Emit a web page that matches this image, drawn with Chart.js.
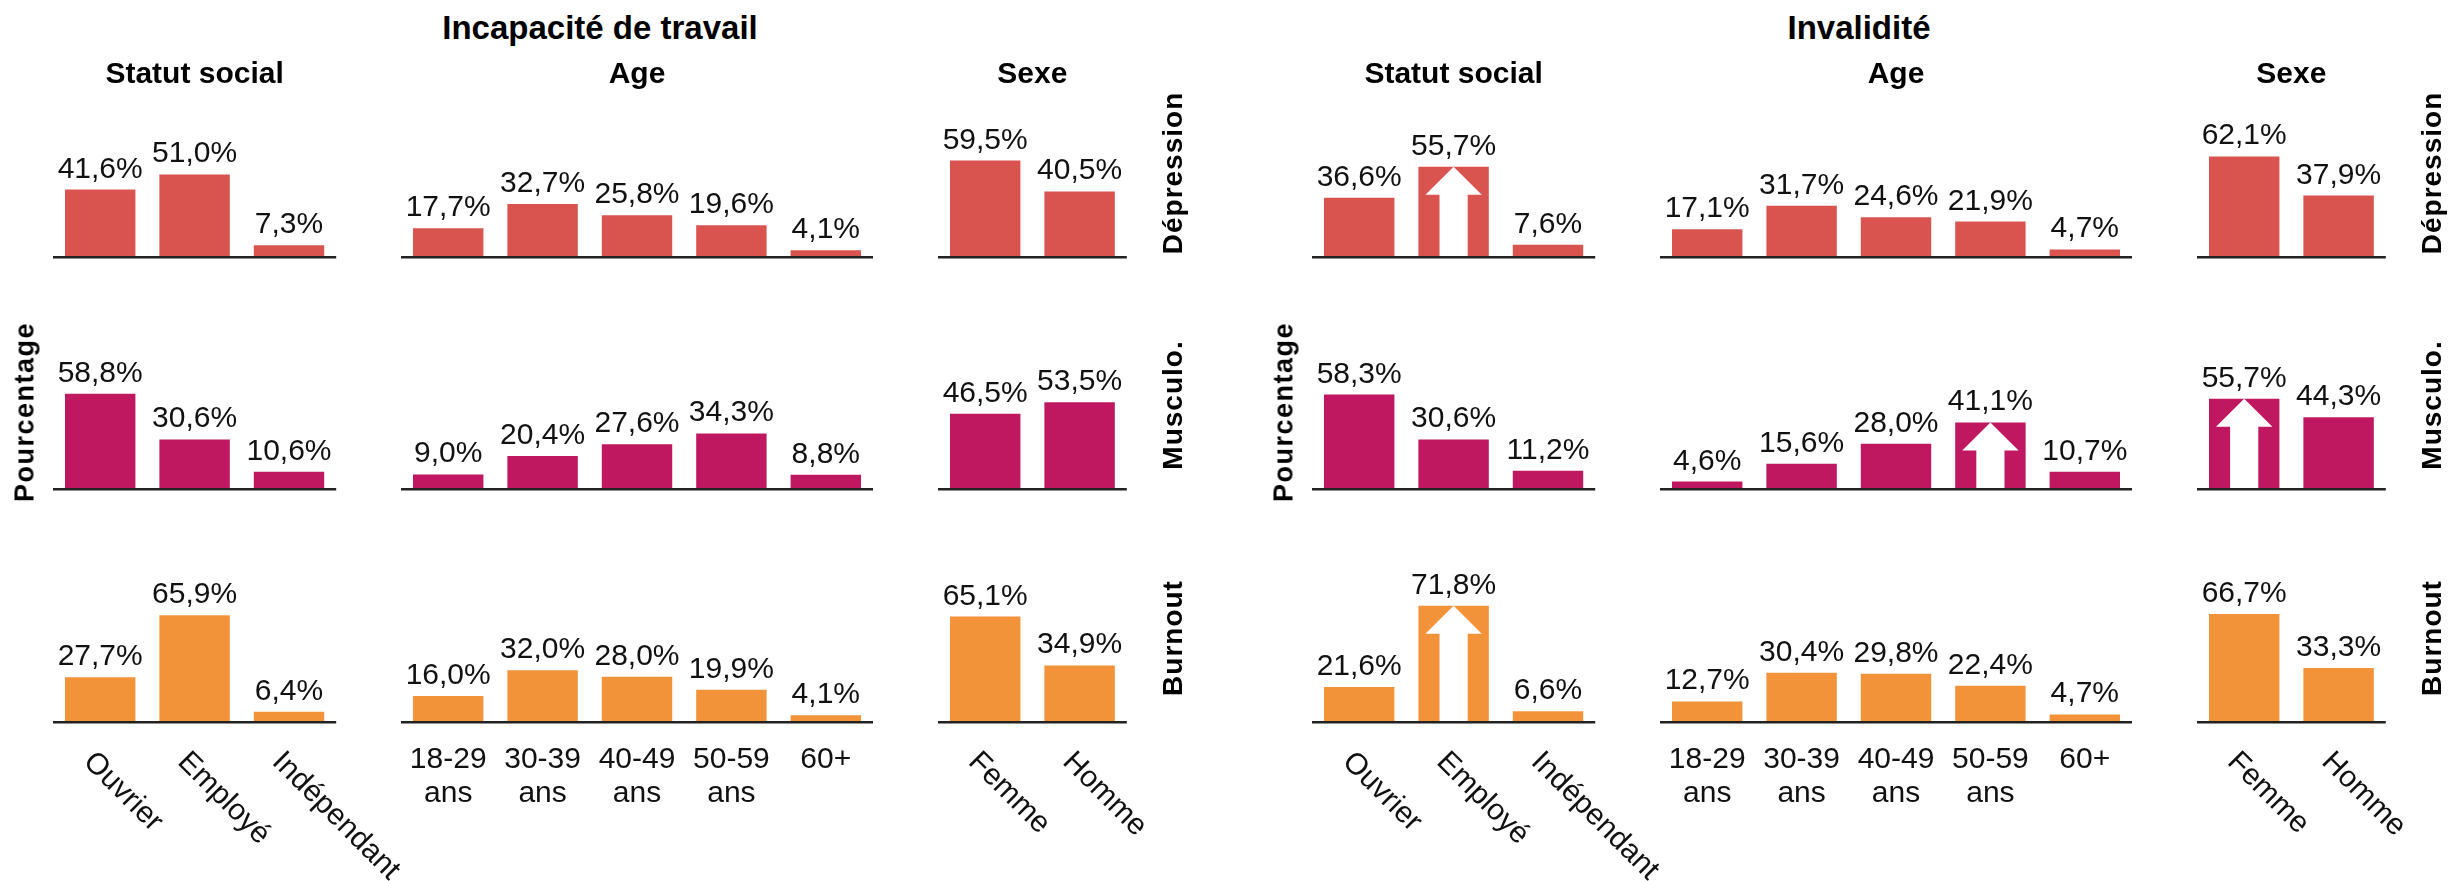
<!DOCTYPE html>
<html>
<head>
<meta charset="utf-8">
<script src="https://cdn.jsdelivr.net/npm/chart.js@4.4.1/dist/chart.umd.min.js"></script>
<style>
  html, body { margin: 0; padding: 0; background: #fff; }
  #fig { position: relative; width: 2451px; height: 881px; overflow: hidden;
         font-family: "Liberation Sans", Arial, sans-serif; color: #000; }
  #fig canvas { position: absolute; }
  .t { position: absolute; white-space: nowrap; font-weight: bold; line-height: 1;
       transform: translate(-50%, -50%); }
  .v { position: absolute; white-space: nowrap; font-weight: bold; line-height: 1;
       transform: translate(-50%, -50%) rotate(-90deg); }
</style>
</head>
<body>
<div id="fig"></div>
<script>
// ---- data -------------------------------------------------------------------
const panelTitles = ["Incapacité de travail", "Invalidité"];
const groupTitles = ["Statut social", "Age", "Sexe"];
const rowNames = ["Dépression", "Musculo.", "Burnout"];
const yLabel = "Pourcentage";

const ssCats = ["Ouvrier", "Employé", "Indépendant"];
const ageCats = [["18-29", "ans"], ["30-39", "ans"], ["40-49", "ans"], ["50-59", "ans"], ["60+"]];
const sexCats = ["Femme", "Homme"];

// Incapacité de travail
const itDepSS = [41.6, 51.0, 7.3];
const itDepAge = [17.7, 32.7, 25.8, 19.6, 4.1];
const itDepSex = [59.5, 40.5];
const itMusSS = [58.8, 30.6, 10.6];
const itMusAge = [9.0, 20.4, 27.6, 34.3, 8.8];
const itMusSex = [46.5, 53.5];
const itBurSS = [27.7, 65.9, 6.4];
const itBurAge = [16.0, 32.0, 28.0, 19.9, 4.1];
const itBurSex = [65.1, 34.9];

// Invalidité
const invDepSS = [36.6, 55.7, 7.6];
const invDepAge = [17.1, 31.7, 24.6, 21.9, 4.7];
const invDepSex = [62.1, 37.9];
const invMusSS = [58.3, 30.6, 11.2];
const invMusAge = [4.6, 15.6, 28.0, 41.1, 10.7];
const invMusSex = [55.7, 44.3];
const invBurSS = [21.6, 71.8, 6.6];
const invBurAge = [12.7, 30.4, 29.8, 22.4, 4.7];
const invBurSex = [66.7, 33.3];

// bars marked with a white up arrow (index into the category list)
const invDepSSArrow = [1];
const invMusAgeArrow = [3];
const invMusSexArrow = [0];
const invBurSSArrow = [1];

// ---- layout -----------------------------------------------------------------
const COLORS = ["#D9534F", "#C01860", "#F2933A"];
const PANEL_DX = [0, 1259];
const GROUP_X = [53, 401, 938];
const BASE_Y = [257, 489, 722];
const ROW_LABEL_Y = [173, 405, 638];
const CAT_W = 94.4;
const SCALE_H = 162;            // pixels for 0..100 %
const FONT = "'Liberation Sans', Arial, sans-serif";

const groupCats = [ssCats, ageCats, sexCats];
const panels = [
  { rows: [[itDepSS, itDepAge, itDepSex], [itMusSS, itMusAge, itMusSex], [itBurSS, itBurAge, itBurSex]],
    arrows: [[[], [], []], [[], [], []], [[], [], []]] },
  { rows: [[invDepSS, invDepAge, invDepSex], [invMusSS, invMusAge, invMusSex], [invBurSS, invBurAge, invBurSex]],
    arrows: [[invDepSSArrow, [], []], [[], invMusAgeArrow, invMusSexArrow], [invBurSSArrow, [], []]] },
];

const fig = document.getElementById("fig");
function fmt(v) { return v.toFixed(1).replace(".", ",") + "%"; }

function addText(txt, x, y, size, cls, extra) {
  const d = document.createElement("div");
  d.className = cls;
  d.textContent = txt;
  d.style.left = x + "px";
  d.style.top = y + "px";
  d.style.fontSize = size + "px";
  if (extra) Object.assign(d.style, extra);
  fig.appendChild(d);
}

// ---- per-chart decoration: baseline, arrows, values, category labels ----------
function decor(cfg) {
  return {
    id: "decor",
    afterDatasetsDraw(chart) {
      const ctx = chart.ctx, area = chart.chartArea;
      const y0 = chart.scales.y.getPixelForValue(0);
      const bars = chart.getDatasetMeta(0).data;
      ctx.save();

      ctx.fillStyle = "#fff";
      cfg.arrows.forEach(i => {
        const b = bars[i];
        const hw = b.width * 0.4, sw = b.width * 0.2, hh = 28;
        ctx.beginPath();
        ctx.moveTo(b.x, b.y);
        ctx.lineTo(b.x + hw, b.y + hh);
        ctx.lineTo(b.x + sw, b.y + hh);
        ctx.lineTo(b.x + sw, y0);
        ctx.lineTo(b.x - sw, y0);
        ctx.lineTo(b.x - sw, b.y + hh);
        ctx.lineTo(b.x - hw, b.y + hh);
        ctx.closePath();
        ctx.fill();
      });

      ctx.fillStyle = "#222";
      ctx.fillRect(area.left, y0 - 1, area.right - area.left, 2.5);

      ctx.fillStyle = "#111";
      ctx.font = "30px " + FONT;
      ctx.textAlign = "center";
      ctx.textBaseline = "alphabetic";
      bars.forEach((b, i) => ctx.fillText(fmt(cfg.values[i]), b.x, b.y - 12));

      if (cfg.showCats) {
        if (cfg.rotate) {
          ctx.font = "30px " + FONT;
          ctx.textAlign = "left";
          bars.forEach((b, i) => {
            ctx.save();
            ctx.translate(b.x - 18, y0 + 41);
            ctx.rotate(Math.PI / 4);
            ctx.fillText(cfg.cats[i], 0, 0);
            ctx.restore();
          });
        } else {
          ctx.font = "30px " + FONT;
          ctx.textAlign = "center";
          bars.forEach((b, i) => {
            [].concat(cfg.cats[i]).forEach((line, k) => ctx.fillText(line, b.x, y0 + 46 + k * 34));
          });
        }
      }
      ctx.restore();
    },
  };
}

// ---- build ------------------------------------------------------------------
panels.forEach((p, pi) => {
  const dx = PANEL_DX[pi];
  p.rows.forEach((row, ri) => {
    row.forEach((values, gi) => {
      const cats = groupCats[gi];
      const padL = 70, padR = 130, padT = 20, padB = ri === 2 ? 170 : 10;
      const axisW = cats.length * CAT_W;
      const cv = document.createElement("canvas");
      cv.width = Math.round(padL + axisW + padR);
      cv.height = padT + SCALE_H + padB;
      cv.style.left = (dx + GROUP_X[gi] - padL) + "px";
      cv.style.top = (BASE_Y[ri] - SCALE_H - padT) + "px";
      fig.appendChild(cv);
      new Chart(cv, {
        type: "bar",
        data: {
          labels: cats.map(c => [].concat(c).join(" ")),
          datasets: [{ data: values, backgroundColor: COLORS[ri], barPercentage: 0.746, categoryPercentage: 1 }],
        },
        options: {
          responsive: false, animation: false, devicePixelRatio: 1,
          layout: { padding: { left: padL, right: cv.width - padL - axisW, top: padT, bottom: padB } },
          scales: { x: { display: false }, y: { display: false, min: 0, max: 100 } },
          plugins: { legend: { display: false }, tooltip: { enabled: false } },
        },
        plugins: [decor({ values, cats, arrows: p.arrows[ri][gi], showCats: ri === 2, rotate: gi !== 1 })],
      });
    });
  });

  // titles and strip labels
  addText(panelTitles[pi], dx + 600, 27, 33, "t");
  groupTitles.forEach((g, gi) => {
    const n = groupCats[gi].length;
    addText(g, dx + GROUP_X[gi] + n * CAT_W / 2, 73, 30, "t");
  });
  rowNames.forEach((r, ri) => addText(r, dx + 1173, ROW_LABEL_Y[ri], 28, "v", { letterSpacing: "1px" }));
  addText(yLabel, dx + 25, 412, 27, "v", { letterSpacing: "1.5px" });
});
</script>
</body>
</html>
